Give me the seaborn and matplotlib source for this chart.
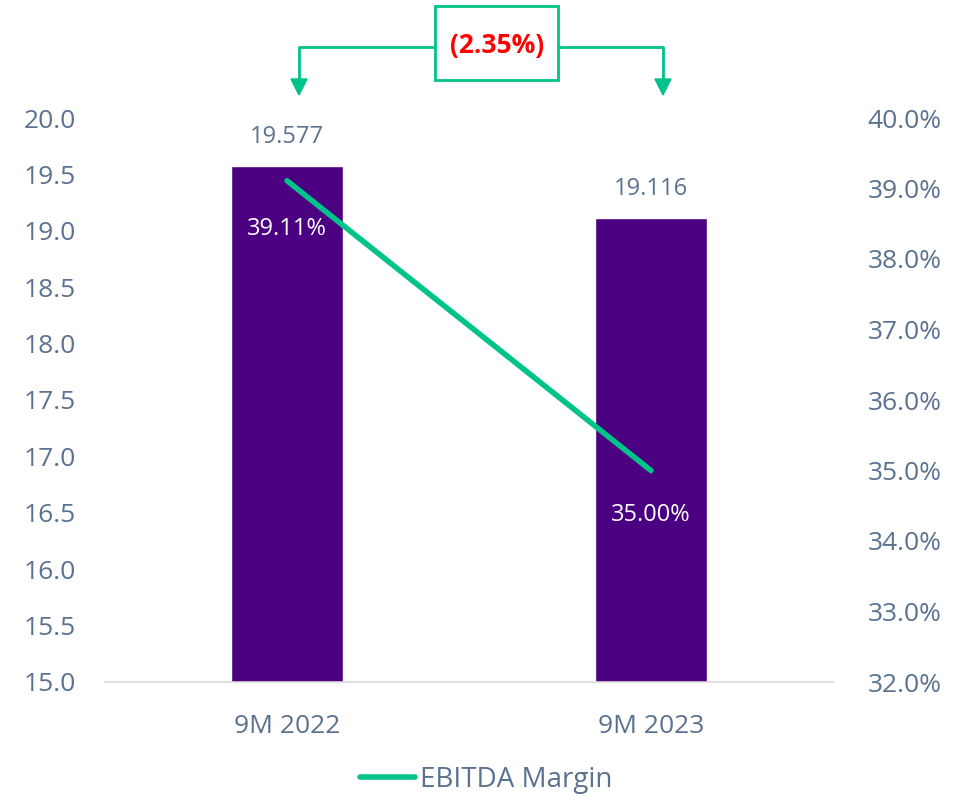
import numpy as np
import pandas as pd
import matplotlib.pyplot as plt
import seaborn as sns
from matplotlib.lines import Line2D
from matplotlib.patches import Rectangle, Polygon

# Dane
periods = ['9M 2022', '9M 2023']
ebitda = [19.577, 19.116]
margin = [39.11, 35.00]
change_label = '(2.35%)'

df = pd.DataFrame({'Period': periods, 'EBITDA': ebitda, 'Margin': margin})

sns.set_theme(style='white')
plt.rcParams['font.family'] = ['Open Sans', 'DejaVu Sans']

purple = '#4B0082'
green = '#00C389'
txt = '#5A7290'

fig = plt.figure(figsize=(9.73, 8.0), dpi=100)
ax = fig.add_axes([0.108, 0.1475, 0.748, 0.705])

sns.barplot(data=df, x='Period', y='EBITDA', color=purple, width=0.31,
            saturation=1, ax=ax)
ax.set_ylim(15.0, 20.0)
ax.set_xlim(-0.5, 1.5)
ax.set_yticks(np.arange(15.0, 20.01, 0.5))
ax.set_yticklabels([f'{v:.1f}' for v in np.arange(15.0, 20.01, 0.5)])
ax.set_xlabel('')
ax.set_ylabel('')
for s in ['top', 'right', 'left']:
    ax.spines[s].set_visible(False)
ax.spines['bottom'].set_color('#D9D9D9')
ax.spines['bottom'].set_linewidth(1.2)
ax.tick_params(axis='both', colors=txt, labelsize=19, length=0)
ax.tick_params(axis='y', pad=21)
ax.tick_params(axis='x', pad=23)

for i, v in enumerate(ebitda):
    ax.text(i, v + 0.15, f'{v:.3f}', ha='center', va='bottom', fontsize=17, color=txt)

ax2 = ax.twinx()
sns.lineplot(x=[0, 1], y=margin, color=green, linewidth=4, ax=ax2, legend=False)
ax2.set_ylim(32.0, 40.0)
ax2.set_yticks(np.arange(32, 40.1, 1))
ax2.set_yticklabels([f'{v:.1f}%' for v in np.arange(32, 40.1, 1)])
for s in ax2.spines.values():
    s.set_visible(False)
ax2.tick_params(axis='y', colors=txt, labelsize=19, length=0, pad=25)
ax2.set_ylabel('')

ax2.text(0, margin[0] - 0.68, f'{margin[0]:.2f}%', ha='center', va='center',
         fontsize=17, color='white')
ax2.text(1, margin[1] - 0.63, f'{margin[1]:.2f}%', ha='center', va='center',
         fontsize=17, color='white')

# Legenda
handle = Line2D([], [], color=green, linewidth=4, solid_capstyle='round')
fig.legend([handle], ['EBITDA Margin'], loc='center', bbox_to_anchor=(0.5, 0.025),
           frameon=False, fontsize=20, labelcolor=txt, handlelength=1.95,
           handletextpad=0.2)

# Adnotacja zmiany marży
W, H = 973, 800
def fx(x): return x / W
def fy(y): return 1 - y / H

fig.add_artist(Rectangle((fx(435), fy(80)), fx(558) - fx(435), fy(6) - fy(80),
                         transform=fig.transFigure, fill=False, edgecolor=green,
                         linewidth=2))
fig.add_artist(Line2D([fx(435), fx(299), fx(299)], [fy(47), fy(47), fy(82)],
                      transform=fig.transFigure, color=green, linewidth=2))
fig.add_artist(Line2D([fx(558), fx(663), fx(663)], [fy(47), fy(47), fy(82)],
                      transform=fig.transFigure, color=green, linewidth=2))
for xc in (299, 663):
    fig.add_artist(Polygon([[fx(xc - 8), fy(79)], [fx(xc + 8), fy(79)], [fx(xc), fy(95)]],
                           closed=True, transform=fig.transFigure, color=green))
fig.text(fx(497), fy(45), change_label, ha='center', va='center', fontsize=19,
         fontweight='bold', color='#FF0000')

plt.savefig('out.png', dpi=100)
